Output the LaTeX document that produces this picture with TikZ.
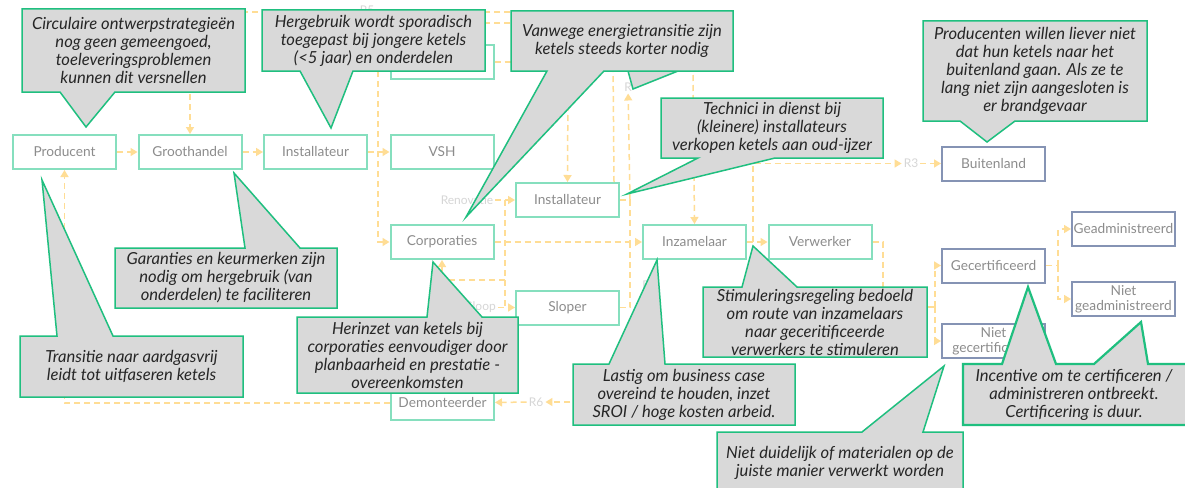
\documentclass[tikz,border=0pt]{standalone}
\usepackage{fontspec}
\setmainfont{Lato}
\usepackage{tikz}
\usetikzlibrary{arrows.meta}
\definecolor{flowc}{HTML}{FFDD95}
\definecolor{boxgreen}{HTML}{86DFBE}
\definecolor{boxblue}{HTML}{8593B4}
\definecolor{boxtext}{HTML}{8C8C8C}
\definecolor{notefill}{HTML}{D9D9D9}
\definecolor{noteline}{HTML}{1FBF7F}
\definecolor{notedark}{HTML}{262626}
\definecolor{rtext}{HTML}{D6D6D6}

\begin{document}
\begin{tikzpicture}
    [
    x=1pt, y=-1pt,
    box/.style={draw=boxgreen,line width=2pt,fill=white,minimum width=103pt,minimum height=34pt,inner sep=1pt,text=boxtext,font=\fontsize{13.7}{14.5}\selectfont,align=center},
    boxb/.style={box,draw=boxblue},
    flow/.style={draw=flowc,line width=1.5pt,dash pattern=on 6pt off 4pt,-{Triangle[length=7pt,width=8pt]}},
    dashline/.style={flow,-},
    rlabel/.style={text=rtext,font=\fontsize{12}{13}\selectfont,inner sep=2pt},
    note/.style={fill=notefill,draw=noteline,line width=1.5pt,line join=miter},
    notetext/.style={text=notedark,align=center,font=\fontsize{16.6}{18}\selectfont\itshape,inner sep=0pt}
    ]
    \fill[white] (0,0) rectangle (1185,487);
    \useasboundingbox (0,0) rectangle (1185,487);
    % chain boxes
    \node (producent) at (64.5,152) [box] {Producent};
    \node (groothandel) at (190,152) [box] {Groothandel};
    \node (installateur) at (315.5,152) [box] {Installateur};
    \node (vsh) at (442,152) [box] {VSH};
    \node (topbox) at (442,62) [box] {};
    \node (installateurb) at (567.5,200) [box] {Installateur};
    \node (corporaties) at (442,242) [box] {Corporaties};
    \node (sloper) at (567.5,307.5) [box] {Sloper};
    \node (inzamelaar) at (694.5,242) [box] {Inzamelaar};
    \node (verwerker) at (820,242) [box] {Verwerker};
    \node (demonteerder) at (442.5,403) [box] {Demonteerder};
    \node (buitenland) at (993.5,163.5) [boxb] {Buitenland};
    \node (gecert) at (993.5,265.5) [boxb] {Gecertificeerd};
    \node (nietgecert) at (993.5,341) [boxb] {Niet\\gecertificeerd};
    \node (geadmin) at (1123.5,229) [boxb] {Geadministreerd};
    \node (nietgeadmin) at (1123.5,299) [boxb] {Niet\\geadministreerd};
    % route labels
    \node (r5) at (367,10) [rlabel] {R5};
    \node (rq) at (628,87) [rlabel] {R};
    \node (rs) at (646,285) [rlabel] {R};
    \node (r3) at (911,163.5) [rlabel] {R3};
    \node (r6) at (536,402) [rlabel] {R6};
    \node (renovatie) at (467,200) [rlabel] {Renovatie};
    \node (sloop) at (481,307.5) [rlabel] {Sloop};
    \coordinate (r5in) at (560,12);
    \coordinate (c23) at (560,23);
    \coordinate (split3) at (753,242);
    \coordinate (splitv) at (935,307);
    \coordinate (splita) at (1058,265.5);
    \coordinate (r6in) at (610,402);
    % flows
    \draw [flow] (producent) to (groothandel);
    \draw [flow] (groothandel) to (installateur);
    \draw [flow] (installateur) to (vsh);
    \draw [dashline] (r5in) -- (r5.east |- r5in);
    \draw [flow] (r5.west |- r5in) -| (groothandel.north);
    \draw [flow] (c23) -- (378,23) |- (corporaties.west);
    \draw [dashline] (topbox.east) -- (560,62);
    \draw [flow] (568,75) -- (installateurb.north);
    \draw [dashline] ([xshift=-6pt]installateurb.north east) -- (613,60);
    \draw [flow] (693,75) -- (inzamelaar.north);
    \draw [flow] (corporaties) to (inzamelaar);
    \draw [dashline] (installateurb.east) -| (630,242);
    \draw [dashline] (sloper.east) -| (630,242);
    \draw [flow] (630,200) -- (rq);
    \draw [flow] (renovatie) to (installateurb);
    \draw [dashline] (505,200) -- (505,307.5);
    \draw [flow] (sloop) to (sloper);
    \draw [flow] (505,280) -| (corporaties.south);
    \draw [flow] (inzamelaar) to (verwerker);
    \draw [flow] (split3) |- (r3);
    \draw [flow] (r3) to (buitenland);
    \draw [dashline] (verwerker.east) -- (883,242) |- (splitv);
    \draw [flow] (splitv) |- (gecert.west);
    \draw [flow] (splitv) |- (nietgecert.west);
    \draw [dashline] (gecert.east) -- (splita);
    \draw [flow] (splita) |- (geadmin.west);
    \draw [flow] (splita) |- (nietgeadmin.west);
    \draw [flow] (r6in) to (r6);
    \draw [flow] (r6) to (demonteerder);
    \draw [flow] (demonteerder.west) -| (producent.south);
    % callouts
    \draw [note] (22,9) -- (245,9) -- (245,92) -- (115,92) -- (86,127) -- (60,92) -- (22,92) -- cycle;
    \node (ncirc) at (133.5,50.5) [notetext] {Circulaire ontwerpstrategieën\\nog geen gemeengoed,\\toeleveringsproblemen\\kunnen dit versnellen};
    \draw [note] (262,10) -- (485,10) -- (485,71) -- (353,71) -- (331,128) -- (300,71) -- (262,71) -- cycle;
    \node (nherg) at (373.5,40.5) [notetext] {Hergebruik wordt sporadisch\\toegepast bij jongere ketels\\(<5 jaar) en onderdelen};
    \draw [note] (560,20) -- (720,20) -- (720,71) -- (678,71) -- (633,89) -- (628,71) -- (560,71) -- cycle;
    \draw [note] (511,11) -- (733,11) -- (733,71) -- (604,71) -- (466,217) -- (547,71) -- (511,71) -- cycle;
    \node (nvanw) at (622,41) [notetext] {Vanwege energietransitie zijn\\ketels steeds korter nodig};
    \draw [note] (661,98) -- (883,98) -- (883,158) -- (775,158) -- (627,194) -- (698,158) -- (661,158) -- cycle;
    \node (ntech) at (772,128) [notetext] {Technici in dienst bij\\(kleinere) installateurs\\verkopen ketels aan oud-ijzer};
    \draw [note] (923,21) -- (1147,21) -- (1147,121) -- (1015,121) -- (987,142) -- (960,121) -- (923,121) -- cycle;
    \node (nprod) at (1035,71) [notetext] {Producenten willen liever niet\\dat hun ketels naar het\\buitenland gaan. Als ze te\\lang niet zijn aangesloten is\\er brandgevaar};
    \draw [note] (115,248) -- (245,248) -- (234,173) -- (300,248) -- (337,248) -- (337,308) -- (115,308) -- cycle;
    \node (ngar) at (226,278) [notetext] {Garanties en keurmerken zijn\\nodig om hergebruik (van\\onderdelen) te faciliteren};
    \draw [note] (20,336) -- (57,336) -- (42,180) -- (113,336) -- (243,336) -- (243,397) -- (20,397) -- cycle;
    \node (ntrans) at (131.5,366.5) [notetext] {Transitie naar aardgasvrij\\leidt tot uitfaseren ketels};
    \draw [note] (297,317) -- (427,317) -- (433,262) -- (482,317) -- (518,317) -- (518,393) -- (297,393) -- cycle;
    \node (nher) at (407.5,355) [notetext] {Herinzet van ketels bij\\corporaties eenvoudiger door\\planbaarheid en prestatie -\\overeenkomsten};
    \draw [note] (573,364) -- (609,364) -- (657,260) -- (665,364) -- (795,364) -- (795,425) -- (573,425) -- cycle;
    \node (nlast) at (684,395) [notetext] {Lastig om business case\\overeind te houden, inzet\\SROI / hoge kosten arbeid.};
    \draw [note] (703,287) -- (742,287) -- (753,246) -- (797,287) -- (927,287) -- (927,357) -- (703,357) -- cycle;
    \node (nstim) at (815,322) [notetext] {Stimuleringsregeling bedoeld\\om route van inzamelaars\\naar geceritificeerde\\verwerkers te stimuleren};
    \draw [note] (717,432) -- (862,432) -- (944,366) -- (923,432) -- (963,432) -- (963,494) -- (717,494) -- cycle;
    \node (nduid) at (840,463) [notetext] {Niet duidelijk of materialen op de\\juiste manier verwerkt worden};
    \draw [note,line width=2.2pt] (963,364) -- (1002,364) -- (1028,287) -- (1056,364) -- (1094,364) -- (1141,322) -- (1148,364) -- (1190,364) -- (1190,425) -- (963,425) -- cycle;
    \node (ninc) at (1074,395) [notetext] {Incentive om te certificeren /\\administreren ontbreekt.\\Certificering is duur.};
  \end{tikzpicture}
\end{document}
